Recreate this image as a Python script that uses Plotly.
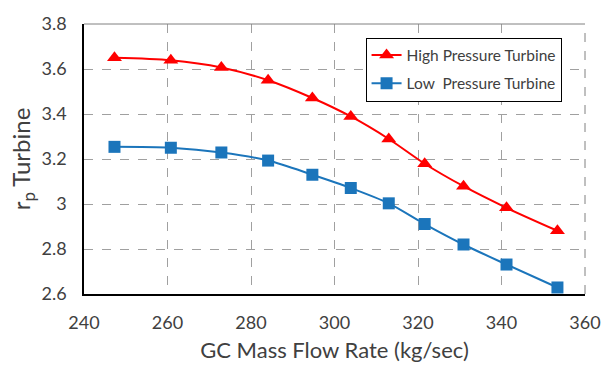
import plotly.graph_objects as go

flow = [247.3, 260.8, 272.9, 284.1, 294.7, 303.9, 313.0, 321.6, 330.9, 341.2, 353.4]
hp_rp = [3.650, 3.639, 3.607, 3.550, 3.471, 3.389, 3.289, 3.179, 3.079, 2.983, 2.881]
lp_rp = [3.254, 3.250, 3.229, 3.193, 3.130, 3.071, 3.003, 2.911, 2.820, 2.731, 2.629]
x_ticks = [240, 260, 280, 300, 320, 340, 360]
y_ticks = [2.6, 2.8, 3.0, 3.2, 3.4, 3.6, 3.8]
y_labels = ["2.6", "2.8", "3", "3.2", "3.4", "3.6", "3.8"]

FONT = "Lato"
TXT = "#404040"

fig = go.Figure()
fig.add_trace(go.Scatter(
    x=flow, y=hp_rp, name="High Pressure Turbine", legendgroup="hp",
    mode="lines+markers", line=dict(color="#FF0000", width=2, shape="spline", smoothing=0.8),
    marker=dict(symbol="triangle-up", size=13, color="#FF0000")))
fig.add_trace(go.Scatter(
    x=flow, y=lp_rp, name="Low\u00a0 Pressure Turbine", legendgroup="lp",
    mode="lines+markers", line=dict(color="#1B75BB", width=2, shape="spline", smoothing=0.8),
    marker=dict(symbol="square", size=12, color="#1B75BB")))

fig.update_layout(
    width=613, height=372,
    margin=dict(l=84, r=16, t=14, b=78),
    paper_bgcolor="white", plot_bgcolor="white",
    font=dict(family=FONT, color=TXT, size=14),
    showlegend=True,
    legend=dict(x=0.562, y=0.95, xanchor="left", yanchor="top",
                bgcolor="white", bordercolor="black", borderwidth=1,
                font=dict(size=15.5, color=TXT), tracegroupgap=5,
                traceorder="grouped"),
    xaxis=dict(range=[240, 360], tickvals=x_ticks, ticks="", showline=True,
               linecolor="black", linewidth=1.5, showgrid=True, gridcolor="#A0A0A0",
               griddash="dash", gridwidth=1, zeroline=False,
               tickfont=dict(size=18, color=TXT), ticklabelstandoff=12,
               title=dict(text="GC Mass Flow Rate (kg/sec)", font=dict(size=22, color=TXT), standoff=10)),
    yaxis=dict(range=[2.6, 3.8], tickvals=y_ticks, ticktext=y_labels,
               ticks="", showline=True,
               linecolor="black", linewidth=1.5, showgrid=True, gridcolor="#A0A0A0",
               griddash="dash", gridwidth=1, zeroline=False,
               tickfont=dict(size=18, color=TXT), ticklabelstandoff=12,
               title=dict(text="r<sub>p</sub> Turbine", font=dict(size=24, color=TXT), standoff=4)),
)
fig.add_shape(type="line", xref="paper", yref="paper", x0=0, x1=1, y0=1, y1=1,
              line=dict(color="#808080", width=1))
fig.add_shape(type="line", xref="paper", yref="paper", x0=1, x1=1, y0=0, y1=1,
              line=dict(color="#808080", width=1, dash="dash"))

fig.write_html("out.html")
